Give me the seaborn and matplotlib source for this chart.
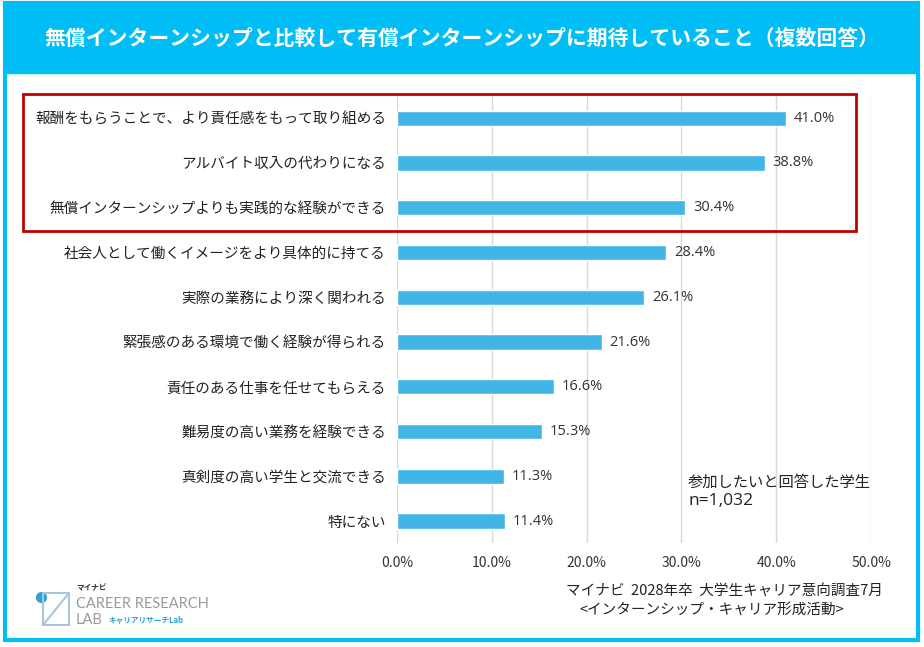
import matplotlib
matplotlib.use("Agg")
import matplotlib.pyplot as plt
from matplotlib.patches import Rectangle
import pandas as pd
import seaborn as sns

# data
categories = [
    "報酬をもらうことで、より責任感をもって取り組める",
    "アルバイト収入の代わりになる",
    "無償インターンシップよりも実践的な経験ができる",
    "社会人として働くイメージをより具体的に持てる",
    "実際の業務により深く関われる",
    "緊張感のある環境で働く経験が得られる",
    "責任のある仕事を任せてもらえる",
    "難易度の高い業務を経験できる",
    "真剣度の高い学生と交流できる",
    "特にない",
]
values = [41.0, 38.8, 30.4, 28.4, 26.1, 21.6, 16.6, 15.3, 11.3, 11.4]
x_ticks = [0, 10, 20, 30, 40, 50]

title = "無償インターンシップと比較して有償インターンシップに期待していること（複数回答）"
note_lines = ["参加したいと回答した学生", "n=1,032"]
source_lines = ["マイナビ  2028年卒  大学生キャリア意向調査7月", "<インターンシップ・キャリア形成活動>"]

bar_color = "#41B6E6"
band_color = "#00BEF5"

sns.set_theme(style="white")
plt.rcParams['font.family'] = ['Noto Sans CJK JP', 'DejaVu Sans']

df = pd.DataFrame({"item": categories, "pct": values})

fig = plt.figure(figsize=(9.24, 6.47), dpi=100)
ax = fig.add_axes([0.4297, 0.160, 0.513, 0.692])

sns.barplot(data=df, x="pct", y="item", orient="h", color=bar_color,
            width=0.34, saturation=1, ax=ax, zorder=3)

ax.set_xlim(0, 50)
ax.set_xticks(x_ticks)
ax.set_xticklabels([f"{t:.1f}%" for t in x_ticks], fontsize=10, color="#333333")
ax.tick_params(axis="x", length=0, pad=9)
ax.tick_params(axis="y", length=0, pad=8)
for lab in ax.get_yticklabels():
    lab.set_fontsize(10.5)
    lab.set_color("#222222")
ax.set_xlabel("")
ax.set_ylabel("")
ax.grid(axis="x", color="#D9D9D9", linewidth=1, zorder=0)
for s in ax.spines.values():
    s.set_visible(False)

for i, v in enumerate(values):
    ax.text(v + 0.8, i, f"{v:.1f}%", va="center", ha="left", fontsize=10.5,
            color="#333333", family=["Open Sans", "DejaVu Sans"], zorder=4)

# title band and outer frame
fig.patches.append(Rectangle((4 / 924, 1 - 73 / 647), 913 / 924, 71 / 647,
                             transform=fig.transFigure, color=band_color, zorder=0))
fig.patches.append(Rectangle((5 / 924, 1 - 640 / 647), 913 / 924, 637 / 647,
                             transform=fig.transFigure, fill=False,
                             edgecolor=band_color, linewidth=3, zorder=1))
fig.text(0.5, 1 - 38 / 647, title, ha="center", va="center", fontsize=15,
         color="white", fontweight="bold")

# red highlight box around the top three
fig.patches.append(Rectangle((23 / 924, 1 - 231 / 647), 833 / 924, 137 / 647,
                             transform=fig.transFigure, fill=False,
                             edgecolor="#C00000", linewidth=2, zorder=5))

# sample note
fig.text(688 / 924, 1 - 482 / 647, note_lines[0], ha="left", va="center",
         fontsize=11, color="#222222")
fig.text(688 / 924, 1 - 501 / 647, note_lines[1], ha="left", va="center",
         fontsize=12.5, color="#222222", family=["Open Sans", "DejaVu Sans"])

# source
fig.text(883 / 924, 1 - 591 / 647, source_lines[0], ha="right", va="center",
         fontsize=10.5, color="#222222")
fig.text(712 / 924, 1 - 610 / 647, source_lines[1], ha="center", va="center",
         fontsize=10.5, color="#222222")

# logo
fig.text(76 / 924, 1 - 588 / 647, "マイナビ", ha="left", va="center",
         fontsize=5.5, color="#333333", fontweight="bold")
fig.text(76 / 924, 1 - 604 / 647, "CAREER RESEARCH", ha="left", va="center",
         fontsize=10.5, color="#9A9A9A", family=["Lato", "DejaVu Sans"])
fig.text(76 / 924, 1 - 620 / 647, "LAB", ha="left", va="center",
         fontsize=10.5, color="#9A9A9A", family=["Lato", "DejaVu Sans"])
fig.text(108 / 924, 1 - 620 / 647, "キャリアリサーチLab", ha="left", va="center",
         fontsize=5.5, color="#2E9FD8", fontweight="bold")
fig.patches.append(Rectangle((43 / 924, 1 - 625 / 647), 26 / 924, 32 / 647,
                             transform=fig.transFigure, fill=False,
                             edgecolor="#A9C6DA", linewidth=1.5, zorder=2))
fig.lines.append(plt.Line2D([43 / 924, 69 / 924], [1 - 625 / 647, 1 - 593 / 647],
                            transform=fig.transFigure, color="#A9C6DA", linewidth=1.5))
fig.lines.append(plt.Line2D([41 / 924], [1 - 597 / 647], transform=fig.transFigure,
                            marker="o", markersize=7, color="#2E9FD8"))

fig.savefig("out.png", dpi=100)
